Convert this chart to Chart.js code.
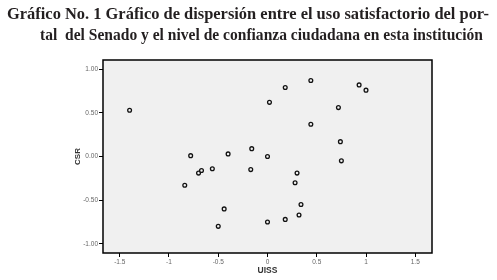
<!DOCTYPE html>
<html>
<head>
<meta charset="utf-8">
<script src="https://cdn.jsdelivr.net/npm/chart.js@4"></script>
<style>
html,body{margin:0;padding:0;background:#fff;}
#wrap{width:497px;height:280px;position:relative;}
</style>
</head>
<body>
<div id="wrap"><canvas id="c" width="497" height="280"></canvas></div>
<script>
const titleLines = [
  "Gráfico No. 1 Gráfico de dispersión entre el uso satisfactorio del por-",
  "tal  del Senado y el nivel de confianza ciudadana en esta institución"
];
const xLabel = "UISS";
const yLabel = "CSR";
const xTicks = [-1.5, -1, -0.5, 0, 0.5, 1, 1.5];
const yTicks = [-1, -0.5, 0, 0.5, 1];
const uiss = [-1.40, 0.02, -0.78, -0.40, -0.16, 0.00, -0.70, -0.67, -0.56, -0.17, -0.84, -0.44, -0.50, 0.00, 0.44, 0.18, 0.93, 1.00, 0.72, 0.44, 0.74, 0.75, 0.30, 0.28, 0.34, 0.32, 0.18];
const csr  = [0.53, 0.62, 0.01, 0.03, 0.09, 0.00, -0.19, -0.16, -0.14, -0.15, -0.33, -0.60, -0.80, -0.75, 0.87, 0.79, 0.82, 0.76, 0.56, 0.37, 0.17, -0.05, -0.19, -0.30, -0.55, -0.67, -0.72];

const points = uiss.map((x, i) => ({x: x, y: csr[i]}));

const frame = {
  id: 'frame',
  beforeDatasetsDraw(chart) {
    const {ctx, chartArea: a} = chart;
    ctx.save();
    ctx.fillStyle = '#f0f0f0';
    ctx.fillRect(a.left, a.top, a.right - a.left, a.bottom - a.top);
    ctx.restore();
  },
  afterDatasetsDraw(chart) {
    const {ctx, chartArea: a} = chart;
    ctx.save();
    ctx.strokeStyle = '#000';
    ctx.lineWidth = 1.5;
    ctx.strokeRect(a.left, a.top, a.right - a.left, a.bottom - a.top);
    ctx.restore();
  },
  afterDraw(chart) {
    const ctx = chart.ctx;
    ctx.save();
    ctx.fillStyle = '#231f20';
    ctx.textAlign = 'center';
    ctx.textBaseline = 'alphabetic';
    const widths = [482, 443];
    const ys = [19, 40];
    titleLines.forEach((t, i) => {
      ctx.font = 'bold 17.5px "Liberation Serif", "DejaVu Serif", serif';
      const w = ctx.measureText(t).width;
      const cx = i === 0 ? 248 : 261.5;
      ctx.save();
      ctx.translate(cx, ys[i]);
      ctx.scale(widths[i] / w, 1);
      ctx.fillText(t, 0, 0);
      ctx.restore();
    });
    ctx.restore();
  }
};

new Chart(document.getElementById('c'), {
  type: 'scatter',
  data: {
    datasets: [{
      data: points,
      pointRadius: 1.9,
      pointHoverRadius: 1.9,
      pointBorderWidth: 1.3,
      pointBorderColor: '#111',
      pointBackgroundColor: '#f0f0f0'
    }]
  },
  options: {
    responsive: false,
    animation: false,
    devicePixelRatio: 1,
    layout: {padding: {top: 60, right: 65, left: 0, bottom: 0}},
    plugins: {legend: {display: false}, tooltip: {enabled: false}, title: {display: false}},
    scales: {
      x: {
        type: 'linear',
        min: -1.67, max: 1.67,
        afterBuildTicks(s) { s.ticks = xTicks.map(v => ({value: v})); },
        afterFit(s) { s.height = 27; },
        grid: {display: true, drawOnChartArea: false, drawTicks: true, tickLength: 4, color: '#000', lineWidth: 1},
        border: {display: false},
        ticks: {
          padding: 1,
          color: '#666',
          font: {family: 'Arial, "Liberation Sans", sans-serif', size: 6.5},
          maxRotation: 0,
          callback: v => String(v)
        },
        title: {
          display: true, text: xLabel, color: '#333',
          font: {family: 'Arial, "Liberation Sans", sans-serif', size: 8.5, weight: 'bold'},
          padding: {top: 0, bottom: 4}
        }
      },
      y: {
        type: 'linear',
        min: -1.105, max: 1.105,
        afterBuildTicks(s) { s.ticks = yTicks.map(v => ({value: v})); },
        afterFit(s) { s.width = 103; },
        grid: {display: true, drawOnChartArea: false, drawTicks: true, tickLength: 4, color: '#000', lineWidth: 1},
        border: {display: false},
        ticks: {
          padding: 1,
          color: '#666',
          font: {family: 'Arial, "Liberation Sans", sans-serif', size: 6.5},
          callback: v => Number(v).toFixed(2)
        },
        title: {
          display: true, text: yLabel, color: '#333',
          font: {family: 'Arial, "Liberation Sans", sans-serif', size: 8, weight: 'bold'},
          padding: {top: 73, bottom: 0}
        }
      }
    }
  },
  plugins: [frame]
});
</script>
</body>
</html>
